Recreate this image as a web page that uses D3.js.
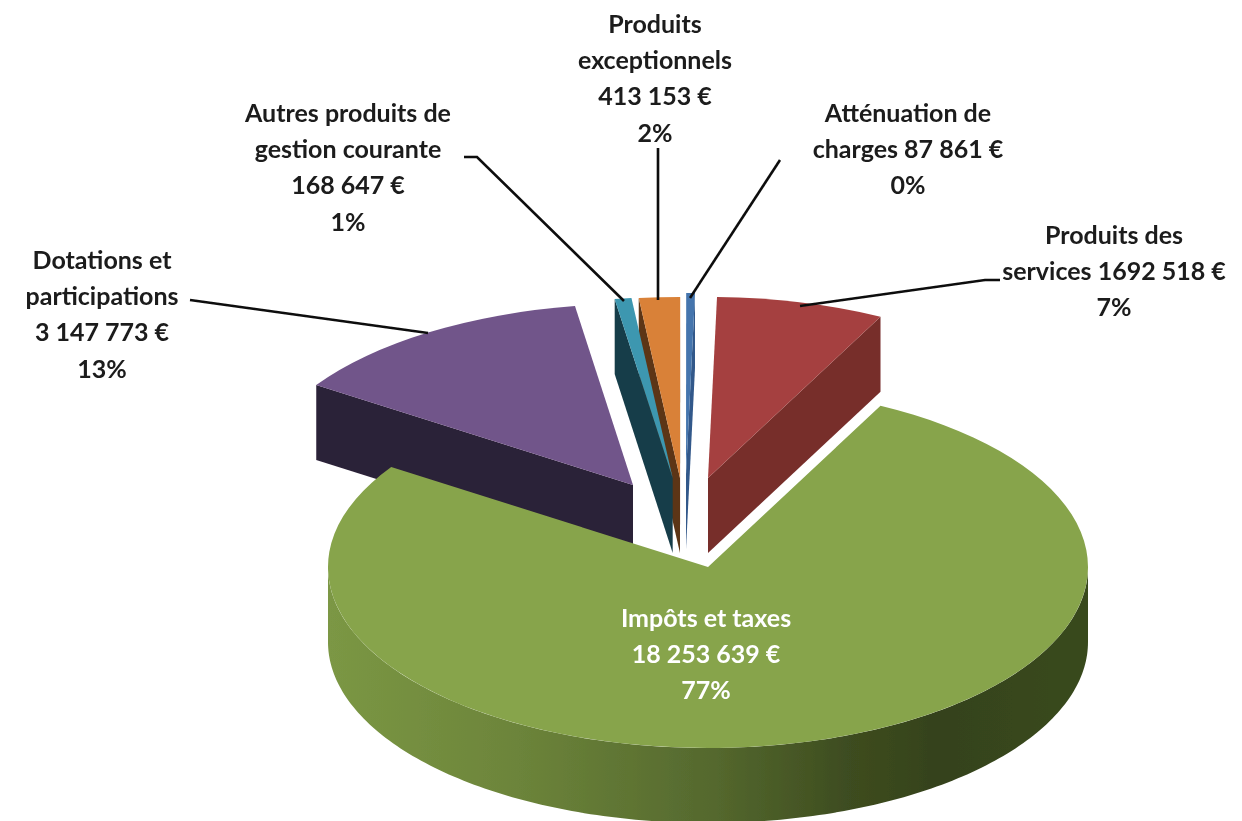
<!DOCTYPE html>
<html><head><meta charset="utf-8">
<script src="https://cdn.jsdelivr.net/npm/d3@7"></script>
<style>html,body{margin:0;padding:0;background:#fff}svg{display:block}</style>
</head><body><div id="chart"></div>
<script>
// --- data
const categories = ["Impôts et taxes","Dotations et participations","Autres produits de gestion courante","Produits exceptionnels","Atténuation de charges","Produits des services"];
const values = [18253639,3147773,168647,413153,87861,1692518];
const labelLines = [
  ["Impôts et taxes","18 253 639  €","77%"],
  ["Dotations et","participations","3 147 773 €","13%"],
  ["Autres produits de","gestion courante","168 647 €","1%"],
  ["Produits","exceptionnels","413 153 €","2%"],
  ["Atténuation de","charges 87 861 €","0%"],
  ["Produits des","services 1692 518 €","7%"]
];
// --- styles & layout
const topColors  = ["#87a44c","#71548a","#3d97b0","#d98137","#4475ad","#a5413f"];
const wallColors = ["#55692e","#2c2038","#183e4a","#5c3516","#33598a","#772e2c"];
const apexes = [[708,567],[633,485],[672.7,478],[680,478],[686,474],[708,478]];
const labelCenters = [[706,618],[102,260],[348,113],[655,24],[908,113],[1114,235]];
const leaders = [
  null,
  [[190,300],[428,333]],
  [[464,157],[477,157],[624,301]],
  [[658,148],[658,300]],
  [[780,160],[690,298]],
  [[1000,280],[985,280],[800,306]]
];
const drawOrder = [1,5,4,3,2,0];
const W=1242,H=821,RX=380,RY=181,DEPTH=75,LH=36.3;
const deg=Math.PI/180;

const svg=d3.select("#chart").append("svg").attr("width",W).attr("height",H).attr("viewBox",`0 0 ${W} ${H}`);
const defs=svg.append("defs");
const grad=defs.append("linearGradient").attr("id","greenWall").attr("gradientUnits","userSpaceOnUse")
  .attr("x1",329).attr("x2",1089).attr("y1",0).attr("y2",0);
[[0,"#7b9744"],[0.25,"#6c843a"],[0.5,"#55692e"],[0.68,"#3e4d20"],[0.8,"#35421a"],[1,"#394a1e"]]
  .forEach(([o,c])=>grad.append("stop").attr("offset",o).attr("stop-color",c));
const blur=defs.append("filter").attr("id","soft").attr("x","-2%").attr("y","-2%").attr("width","104%").attr("height","104%");
blur.append("feGaussianBlur").attr("stdDeviation",0.55);

const pie=d3.pie().sort(null).startAngle(27*deg).endAngle(387*deg);
const arcs=pie(values);
const arc=d3.arc().innerRadius(0).outerRadius(RX);
const sx=a=>RX*Math.sin(a), sy=a=>-RY*Math.cos(a);
const poly=d3.line();

const g=svg.append("g").attr("filter","url(#soft)");

drawOrder.forEach(i=>{
  const d=arcs[i],[ax,ay]=apexes[i];
  if(i===0){
    const from=90*deg,to=270*deg;
    const s=d3.range(from,to+1e-6,deg);
    const pts=s.map(a=>[ax+sx(a),ay+sy(a)]).concat(s.slice().reverse().map(a=>[ax+sx(a),ay+sy(a)+DEPTH]));
    g.append("path").attr("d",poly(pts)+"Z").attr("fill","url(#greenWall)");
  } else {
    const edges=[];
    if(Math.sin(d.startAngle)<-1e-6) edges.push(d.startAngle);
    if(Math.sin(d.endAngle)>1e-6) edges.push(d.endAngle);
    edges.forEach(a=>{
      const p=[ax+sx(a),ay+sy(a)];
      g.append("path").attr("d",poly([[ax,ay],p,[p[0],p[1]+DEPTH],[ax,ay+DEPTH]])+"Z").attr("fill",wallColors[i]);
    });
  }
  g.append("path").attr("d",arc(d))
    .attr("transform",`translate(${ax},${ay}) scale(1,${RY/RX})`)
    .attr("fill",topColors[i]);
});

leaders.forEach(l=>{ if(l) g.append("path").attr("d",poly(l)).attr("fill","none").attr("stroke","#111").attr("stroke-width",2.6); });

const t=svg.append("g").attr("filter","url(#soft)")
  .attr("font-family","Lato, 'Open Sans', sans-serif").attr("font-weight",700).attr("font-size",25).attr("text-anchor","middle");
labelLines.forEach((lines,i)=>{
  const [cx,cy]=labelCenters[i];
  t.selectAll(null).data(lines).enter().append("text")
    .attr("x",cx).attr("y",(d,k)=>cy+k*LH).attr("dy","0.35em")
    .attr("fill",i===0?"#ffffff":"#1a1a1a").text(d=>d);
});
</script></body></html>
